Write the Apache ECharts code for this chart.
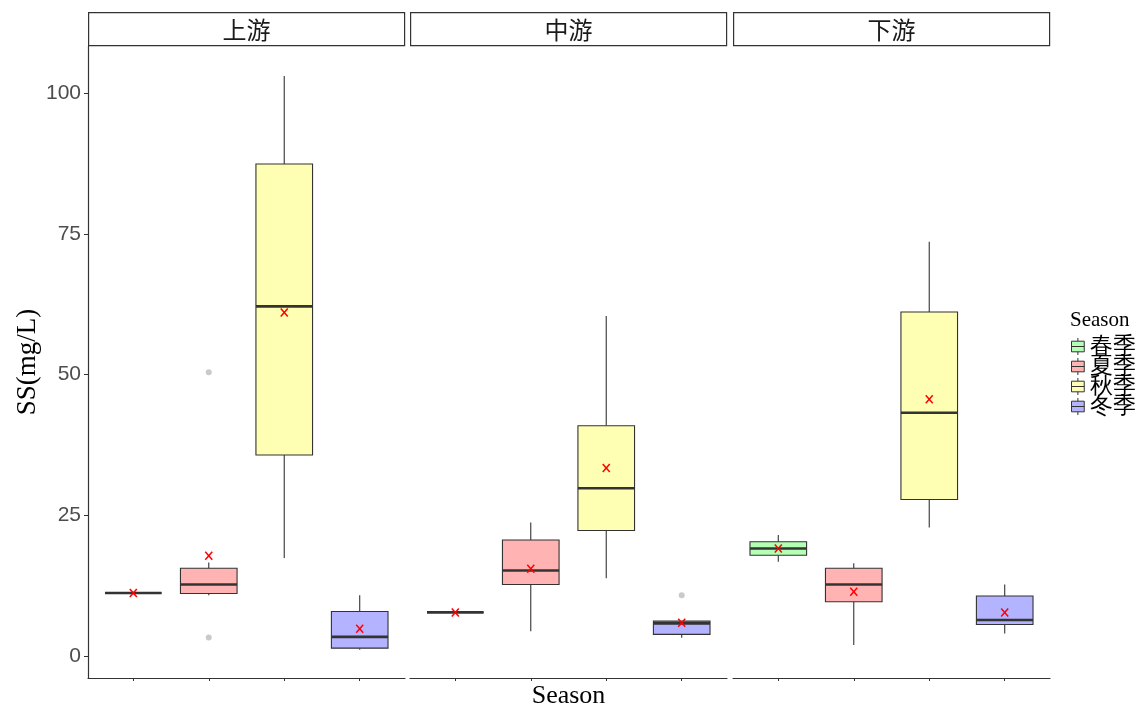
<!DOCTYPE html>
<html>
<head>
<meta charset="utf-8">
<script src="https://cdn.jsdelivr.net/npm/echarts@6/dist/echarts.min.js"></script>
<style>
  html, body { margin: 0; padding: 0; background: #fff; }
  #chart { width: 1139px; height: 710px; }
</style>
</head>
<body>
<div id="chart"></div>
<script>
// Suspended solids by reach and season
const seasons = ['春季', '夏季', '秋季', '冬季'];
const reaches = ['上游', '中游', '下游'];
const yTicks = [0, 25, 50, 75, 100];

// Per season: [lower whisker, Q1, median, Q3, upper whisker]
const upstreamBox = [
  [11.2, 11.2, 11.2, 11.2, 11.2],
  [10.8, 11.1, 12.7, 15.6, 16.6],
  [17.4, 35.7, 62.1, 87.4, 103.0],
  [1.1, 1.4, 3.4, 7.9, 10.8]
];
const midstreamBox = [
  [7.75, 7.75, 7.75, 7.75, 7.75],
  [4.4, 12.7, 15.2, 20.6, 23.7],
  [13.8, 22.3, 29.8, 40.9, 60.4],
  [3.25, 3.85, 5.8, 6.2, 6.2]
];
const downstreamBox = [
  [16.75, 17.9, 19.1, 20.3, 21.5],
  [1.95, 9.65, 12.7, 15.6, 16.5],
  [22.85, 27.8, 43.2, 61.1, 73.6],
  [4.0, 5.6, 6.4, 10.66, 12.7]
];

// Season means
const upstreamMean = [11.2, 17.8, 61.0, 4.85];
const midstreamMean = [7.75, 15.5, 33.4, 5.9];
const downstreamMean = [19.1, 11.4, 45.6, 7.75];

// Outliers per season
const upstreamOutliers = [[], [50.4, 3.3], [], []];
const midstreamOutliers = [[], [], [], [10.8]];
const downstreamOutliers = [[], [], [], []];

const boxes = [upstreamBox, midstreamBox, downstreamBox];
const means = [upstreamMean, midstreamMean, downstreamMean];
const outliers = [upstreamOutliers, midstreamOutliers, downstreamOutliers];

const fills = ['#b3ffb3', '#ffb3b3', '#ffffb3', '#b3b3ff'];

// Panel geometry
const panelLeft = [88, 410, 733];
const panelWidth = 317;
const panelTop = 46;
const panelBottom = 678;
const stripTop = 12;

const chart = echarts.init(document.getElementById('chart'), null, { renderer: 'canvas' });

function renderBox(params, api) {
  const x = api.value(0);
  const lo = api.value(1), q1 = api.value(2), med = api.value(3), q3 = api.value(4), hi = api.value(5), mean = api.value(6);
  const half = api.size([0.75, 0])[0] / 2;
  const pLo = api.coord([x, lo]);
  const pQ1 = api.coord([x, q1]);
  const pMed = api.coord([x, med]);
  const pQ3 = api.coord([x, q3]);
  const pHi = api.coord([x, hi]);
  const pMean = api.coord([x, mean]);
  const cx = pMed[0];
  const fill = api.visual('color');
  const edge = '#333333';
  const children = [
    { type: 'line', shape: { x1: cx, y1: pQ3[1], x2: cx, y2: pHi[1] }, style: { stroke: edge, lineWidth: 1.1 } },
    { type: 'line', shape: { x1: cx, y1: pQ1[1], x2: cx, y2: pLo[1] }, style: { stroke: edge, lineWidth: 1.1 } },
    { type: 'rect', shape: { x: cx - half, y: pQ3[1], width: half * 2, height: pQ1[1] - pQ3[1] },
      style: { fill: fill, stroke: edge, lineWidth: 1.1 } },
    { type: 'line', shape: { x1: cx - half, y1: pMed[1], x2: cx + half, y2: pMed[1] }, style: { stroke: edge, lineWidth: 2.6 } },
    { type: 'line', shape: { x1: pMean[0] - 3.5, y1: pMean[1] - 4, x2: pMean[0] + 3.5, y2: pMean[1] + 4 }, style: { stroke: '#ff0000', lineWidth: 1.5 } },
    { type: 'line', shape: { x1: pMean[0] + 3.5, y1: pMean[1] - 4, x2: pMean[0] - 3.5, y2: pMean[1] + 4 }, style: { stroke: '#ff0000', lineWidth: 1.5 } }
  ];
  return { type: 'group', children: children };
}

const grids = [], xAxes = [], yAxes = [], series = [], graphics = [];

reaches.forEach(function (reach, r) {
  grids.push({
    left: panelLeft[r], width: panelWidth,
    top: panelTop, height: panelBottom - panelTop,
    containLabel: false, outerBoundsMode: 'none'
  });
  xAxes.push({
    type: 'value', gridIndex: r, min: 0.4, max: 4.6,
    name: r === 1 ? 'Season' : '',
    nameLocation: 'middle', nameGap: 5,
    nameTextStyle: { fontFamily: 'Liberation Serif', fontSize: 26, color: '#000', verticalAlign: 'top' },
    axisLine: { show: true, onZero: false, lineStyle: { color: '#333', width: 1.2 } },
    axisTick: { show: true, length: 3, customValues: [1, 2, 3, 4], lineStyle: { color: '#333' } },
    axisLabel: { show: false, customValues: [1, 2, 3, 4] },
    splitLine: { show: false }
  });
  yAxes.push({
    type: 'value', gridIndex: r, min: -3.9, max: 108.35,
    name: r === 0 ? 'SS(mg/L)' : '',
    nameLocation: 'middle', nameGap: 47,
    nameTextStyle: { fontFamily: 'Liberation Serif', fontSize: 27, color: '#000' },
    axisLine: { show: r === 0, onZero: false, lineStyle: { color: '#333', width: 1.2 } },
    axisTick: { show: r === 0, length: 4, customValues: yTicks, lineStyle: { color: '#333' } },
    axisLabel: {
      show: r === 0, customValues: yTicks, margin: 7,
      fontFamily: 'Liberation Sans', fontSize: 21, color: '#4d4d4d'
    },
    splitLine: { show: false }
  });

  seasons.forEach(function (season, s) {
    series.push({
      type: 'custom', name: season,
      xAxisIndex: r, yAxisIndex: r,
      itemStyle: { color: fills[s] },
      renderItem: renderBox,
      encode: { x: 0, y: [1, 2, 3, 4, 5] },
      data: [[s + 1].concat(boxes[r][s], [means[r][s]])],
      z: 2
    });
  });

  const outlierData = [];
  outliers[r].forEach(function (vals, s) {
    vals.forEach(function (v) { outlierData.push([s + 1, v]); });
  });
  series.push({
    type: 'scatter', name: '离群值' + reach,
    xAxisIndex: r, yAxisIndex: r,
    symbol: 'circle', symbolSize: 6,
    itemStyle: { color: '#bdbdbd' },
    data: outlierData, z: 3
  });

  // facet strip
  graphics.push({
    type: 'group', left: panelLeft[r], top: stripTop,
    children: [
      { type: 'rect', shape: { x: 0.5, y: 0.5, width: panelWidth - 1, height: panelTop - stripTop - 1 },
        style: { fill: '#fff', stroke: '#333', lineWidth: 1.2 } },
      { type: 'text', x: panelWidth / 2, y: (panelTop - stripTop) / 2 + 1,
        style: { text: reach, fontFamily: 'Noto Sans CJK SC', fontSize: 24, fill: '#1a1a1a', align: 'center', verticalAlign: 'middle' } }
    ]
  });
});

const legendIcon = 'path://M6,0 L6,3 M0,3 L12,3 L12,13 L0,13 Z M0,8 L12,8 M6,13 L6,16';

chart.setOption({
  animation: false,
  backgroundColor: '#fff',
  title: {
    text: 'Season', left: 1065, top: 305,
    textStyle: { fontFamily: 'Liberation Serif', fontSize: 21, fontWeight: 'normal', color: '#000' }
  },
  legend: {
    data: seasons, orient: 'vertical', left: 1066, top: 330,
    icon: legendIcon, itemWidth: 14, itemHeight: 17, itemGap: -3,
    itemStyle: { borderColor: '#333', borderWidth: 1 },
    textStyle: { fontFamily: 'Liberation Serif', fontSize: 23, color: '#000' }
  },
  grid: grids,
  xAxis: xAxes,
  yAxis: yAxes,
  series: series,
  graphic: graphics
});
</script>
</body>
</html>
